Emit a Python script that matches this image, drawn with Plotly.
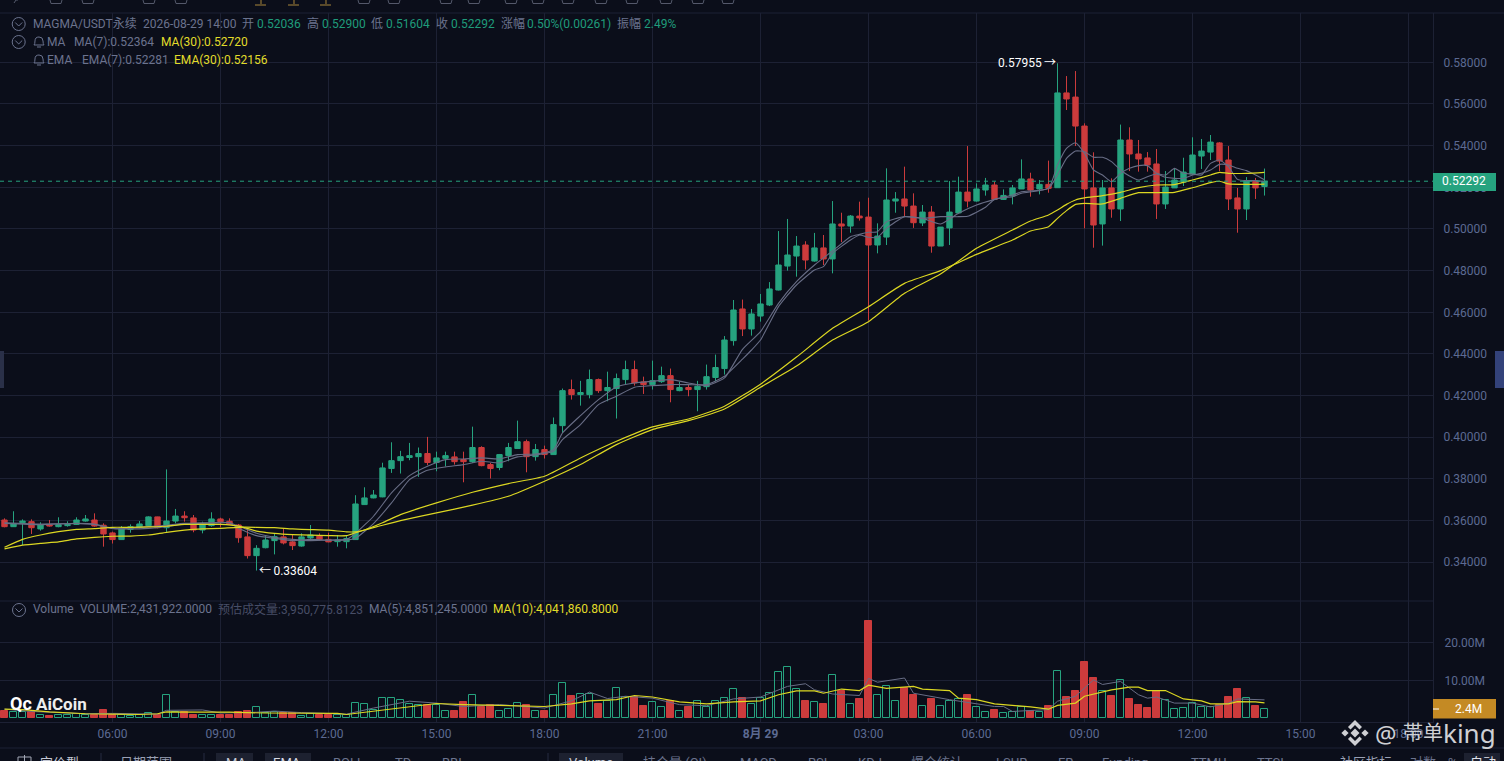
import pandas as pd
import plotly.graph_objects as go

# 15 minute candles, MAGMA/USDT
times = pd.date_range("2026-08-28 03:00", "2026-08-29 14:00", freq="15min")

open_ = [
    .3603, .3571, .3590, .3595, .3560, .3581, .3571, .3576, .3582, .3598,
    .3603, .3578, .3541, .3509, .3558, .3568, .3576, .3618, .3566, .3598,
    .3622, .3613, .3555, .3576, .3608, .3597, .3579, .3522, .3432, .3470,
    .3504, .3522, .3498, .3478, .3517, .3526, .3510, .3499, .3499, .3509,
    .3677, .3709, .3714, .3850, .3888, .3903, .3907, .3922, .3879, .3899,
    .3906, .3893, .3883, .3951, .3869, .3855, .3912, .3946, .3979, .3907,
    .3941, .3917, .4056, .4229, .4205, .4205, .4277, .4224, .4234, .4277,
    .4325, .4266, .4253, .4267, .4296, .4224, .4239, .4229, .4243, .4287,
    .4330, .4464, .4616, .4520, .4582, .4635, .4707, .4822, .4870, .4923,
    .4846, .4909, .4856, .5024, .5014, .5062, .5057, .4923, .4961, .5134,
    .5144, .5110, .5029, .5081, .4918, .5005, .5077, .5177, .5134, .5187,
    .5211, .5142, .5158, .5192, .5240, .5192, .5214, .5198, .5653, .5633,
    .5494, .5197, .5024, .5197, .5096, .5427, .5360, .5341, .5312, .5120,
    .5197, .5225, .5264, .5350, .5369, .5413, .5331, .5149, .5096, .5230,
    .52036,
]
high = [
    .3611, .3645, .3606, .3606, .3592, .3603, .3616, .3597, .3616, .3627,
    .3635, .3587, .3547, .3574, .3582, .3598, .3621, .3619, .3846, .3656,
    .3645, .3627, .3595, .3640, .3614, .3611, .3584, .3563, .3482, .3528,
    .3539, .3562, .3534, .3539, .3579, .3539, .3542, .3531, .3531, .3722,
    .3760, .3747, .3878, .3976, .3935, .3973, .3951, .4002, .3931, .3931,
    .3931, .3931, .4051, .3957, .3877, .3920, .3973, .4080, .3989, .3968,
    .3960, .4095, .4234, .4277, .4271, .4325, .4282, .4315, .4306, .4368,
    .4368, .4291, .4368, .4339, .4330, .4267, .4253, .4271, .4349, .4397,
    .4486, .4659, .4661, .4616, .4688, .4745, .4990, .5048, .4966, .4941,
    .4981, .4971, .5134, .5078, .5067, .5131, .5150, .5027, .5291, .5177,
    .5299, .5171, .5115, .5110, .5009, .5230, .5251, .5398, .5219, .5245,
    .5227, .5190, .5211, .5334, .5270, .5235, .5328, .57955, .5734, .5758,
    .5507, .5368, .5235, .5243, .5501, .5488, .5427, .5369, .5384, .5278,
    .5291, .5342, .5440, .5432, .5451, .5417, .5398, .5197, .5249, .5245,
    .52900,
]
low = [
    .3568, .3570, .3483, .3536, .3552, .3571, .3568, .3571, .3579, .3595,
    .3571, .3475, .3490, .3507, .3542, .3563, .3571, .3563, .3546, .3587,
    .3595, .3544, .3539, .3571, .3568, .3579, .3494, .3418, .33604, .3467,
    .3438, .3486, .3459, .3475, .3512, .3504, .3496, .3475, .3467, .3507,
    .3675, .3707, .3712, .3829, .3826, .3890, .3810, .3866, .3837, .3861,
    .3869, .3784, .3877, .3861, .3802, .3842, .3885, .3944, .3832, .3888,
    .3898, .3915, .4021, .4181, .4152, .4187, .4213, .4173, .4090, .4253,
    .4248, .4208, .4229, .4261, .4168, .4221, .4197, .4125, .4229, .4269,
    .4301, .4440, .4486, .4488, .4555, .4630, .4705, .4800, .4771, .4806,
    .4843, .4827, .4787, .4937, .4982, .5040, .4560, .4883, .4923, .5078,
    .5062, .5005, .5014, .4886, .4918, .4923, .5075, .5104, .5131, .5160,
    .5139, .5139, .5118, .5192, .5155, .5166, .5174, .5198, .5571, .5398,
    .5003, .4910, .4920, .5054, .5038, .5278, .5275, .5275, .5048, .5096,
    .5197, .5206, .5259, .5288, .5331, .5278, .5091, .4982, .5043, .5144,
    .51604,
]
close = [
    .3571, .3584, .3598, .3566, .3579, .3574, .3581, .3582, .3603, .3608,
    .3574, .3536, .3509, .3563, .3571, .3584, .3618, .3566, .3598, .3622,
    .3614, .3555, .3579, .3608, .3595, .3582, .3518, .3432, .3467, .3507,
    .3523, .3493, .3480, .3522, .3531, .3510, .3498, .3507, .3514, .3680,
    .3709, .3723, .3853, .3888, .3907, .3912, .3922, .3879, .3901, .3912,
    .3883, .3883, .3951, .3864, .3850, .3917, .3951, .3979, .3907, .3941,
    .3917, .4061, .4224, .4205, .4215, .4277, .4224, .4239, .4282, .4325,
    .4261, .4253, .4272, .4296, .4229, .4239, .4229, .4245, .4291, .4335,
    .4467, .4611, .4520, .4592, .4640, .4712, .4827, .4875, .4918, .4851,
    .4909, .4856, .5024, .5014, .5062, .5053, .4923, .4966, .5139, .5144,
    .5110, .5030, .5081, .4918, .5009, .5081, .5177, .5134, .5192, .5211,
    .5142, .5161, .5197, .5240, .5187, .5214, .5195, .5653, .5624, .5494,
    .5192, .5019, .5197, .5096, .5427, .5360, .5336, .5307, .5120, .5201,
    .5235, .5273, .5355, .5374, .5417, .5326, .5144, .5096, .5230, .5197,
    .52292,
]
# volume in millions, red bars are filled, green ones hollow
volume = [
    1.9, 1.6, 1.6, 1.6, 1.0, 0.7, 0.9, 0.9, 1.1, 0.9,
    0.9, 2.3, 1.0, 0.8, 0.6, 0.8, 1.3, 1.0, 6.1, 1.6,
    1.6, 1.0, 1.0, 0.8, 0.9, 0.9, 1.6, 1.9, 3.0, 1.4,
    1.6, 1.4, 1.4, 0.6, 1.1, 0.9, 0.9, 0.8, 1.0, 4.0,
    3.8, 2.3, 5.3, 5.3, 4.9, 3.7, 3.6, 3.6, 3.6, 1.9,
    2.0, 4.3, 6.1, 3.1, 3.5, 1.9, 2.4, 4.0, 3.5, 1.9,
    2.0, 6.1, 9.3, 5.9, 6.4, 6.4, 3.8, 4.5, 7.9, 5.6,
    5.6, 3.3, 4.4, 3.0, 4.5, 1.9, 3.1, 4.5, 3.0, 4.5,
    5.3, 7.7, 5.3, 3.8, 5.3, 6.6, 12.1, 13.4, 7.7, 4.6,
    4.3, 3.8, 11.3, 7.2, 3.8, 5.1, 25.6, 6.1, 8.5, 4.5,
    8.0, 6.2, 3.2, 5.1, 3.2, 4.5, 5.1, 6.2, 3.0, 1.7,
    2.3, 1.4, 1.7, 2.9, 1.8, 1.7, 3.3, 12.4, 5.7, 7.2,
    14.8, 10.7, 7.2, 5.9, 10.0, 5.2, 3.6, 2.8, 7.2, 4.8,
    2.4, 2.7, 4.0, 3.0, 3.0, 3.5, 5.7, 7.8, 5.3, 3.3,
    2.43,
]

# indicator lines, read at the candle numbers in the *_at lists
ma30_at = [0, 2, 4, 6, 8, 10, 12, 14, 16, 18, 20, 22, 24, 26, 28, 30, 32, 34, 36, 38, 39, 40, 42, 44,
           48, 52, 56, 60, 64, 68, 72, 76, 80, 84, 88, 92, 96, 100, 104, 108, 112, 114, 116, 117, 118,
           119, 120, 122, 124, 126, 128, 130, 132, 134, 135, 136, 138, 140]
ma30 = [.3464, .3482, .3491, .3498, .3512, .3520, .3525, .3526, .3531, .3544, .3554, .3560, .3563, .3568,
        .3568, .3566, .3560, .3557, .3554, .3546, .3546, .3555, .3578, .3600, .3637, .3674, .3717, .3789,
        .3869, .3965, .4037, .4080, .4136, .4240, .4342, .4467, .4555, .4691, .4784, .4907, .4995, .5038,
        .5067, .5091, .5118, .5139, .5149, .5160, .5176, .5198, .5211, .5213, .5235, .5259, .5272, .5267,
        .5267, .52720]
ema30 = [.3472, .3510, .3531, .3547, .3558, .3562, .3568, .3568, .3570, .3573, .3582, .3582, .3582, .3574,
         .3550, .3539, .3533, .3530, .3528, .3528, .3542, .3555, .3590, .3629, .3685, .3736, .3778, .3813,
         .3901, .3981, .4050, .4088, .4149, .4255, .4385, .4523, .4627, .4739, .4800, .4878, .4947, .4990,
         .5011, .5051, .5088, .5118, .5123, .5120, .5147, .5174, .5174, .5176, .5198, .5222, .5229, .5216,
         .5214, .52156]

ma7_at = [0, 4, 8, 10, 12, 14, 16, 18, 20, 22, 24, 25, 26, 28, 30, 32, 34, 36, 38, 39, 41, 43, 45, 47, 49,
          51, 53, 55, 57, 59, 61, 62, 64, 66, 68, 70, 72, 74, 76, 78, 80, 82, 83, 84, 86, 88, 90, 91, 92,
          94, 95, 96, 97, 98, 100, 102, 104, 106, 107, 109, 110, 112, 113, 116, 117, 118, 119, 120, 121,
          122, 123, 124, 125, 126, 127, 128, 129, 130, 131, 132, 133, 134, 135, 136, 137, 138, 139, 140]
ma7 = [.3590, .3584, .3586, .3581, .3562, .3560, .3563, .3571, .3584, .3587, .3589, .3590, .3574, .3539,
       .3520, .3510, .3504, .3507, .3507, .3515, .3586, .3685, .3797, .3842, .3858, .3869, .3885, .3877,
       .3906, .3915, .3933, .3989, .4061, .4157, .4197, .4240, .4248, .4253, .4253, .4253, .4293, .4375,
       .4419, .4467, .4627, .4731, .4803, .4819, .4883, .4947, .4971, .4960, .4960, .5003, .5059, .5051,
       .5059, .5059, .5061, .5104, .5142, .5155, .5171, .5195, .5259, .5339, .5374, .5371, .5344, .5344,
       .5323, .5283, .5254, .5235, .5251, .5264, .5248, .5243, .5243, .5259, .5267, .5283, .5310, .5307,
       .5291, .5280, .5259, .52364]

ema7_at = [0, 4, 8, 10, 12, 14, 16, 18, 20, 22, 24, 25, 26, 28, 30, 32, 34, 36, 38, 39, 41, 43, 45, 47, 49,
           51, 53, 55, 57, 59, 61, 62, 64, 66, 68, 70, 72, 74, 76, 78, 80, 82, 84, 86, 88, 90, 92, 94, 95,
           96, 97, 98, 100, 102, 104, 106, 108, 110, 112, 113, 116, 117, 118, 119, 120, 121, 122, 123, 124,
           125, 126, 127, 128, 129, 130, 131, 132, 133, 134, 135, 136, 137, 138, 139, 140]
ema7 = [.3587, .3581, .3587, .3584, .3563, .3563, .3571, .3578, .3587, .3589, .3592, .3590, .3563, .3528,
        .3515, .3504, .3510, .3506, .3510, .3539, .3621, .3733, .3816, .3861, .3893, .3896, .3901, .3896,
        .3917, .3920, .3941, .4021, .4104, .4181, .4242, .4261, .4269, .4277, .4261, .4248, .4285, .4422,
        .4507, .4643, .4747, .4827, .4894, .4963, .4974, .4984, .4987, .5035, .5059, .5051, .5024, .5075,
        .5115, .5142, .5163, .5179, .5195, .5307, .5387, .5414, .5363, .5283, .5259, .5227, .5267, .5291,
        .5304, .5304, .5267, .5259, .5291, .5267, .5264, .5259, .5315, .5331, .5299, .5238, .5232, .5232,
        .52281]

vol_ma5_at = [0, 3, 9, 12, 17, 18, 22, 24, 28, 30, 33, 38, 41, 45, 48, 51, 55, 60, 63, 65, 67, 69, 72, 75,
              78, 81, 84, 87, 89, 90, 92, 95, 96, 97, 100, 101, 105, 106, 110, 111, 112, 116, 117, 119, 121,
              122, 124, 126, 127, 128, 130, 132, 134, 136, 137, 140]
vol_ma5 = [2.4, 1.8, 1.2, 1.3, 1.1, 2.1, 2.2, 1.4, 1.6, 1.9, 1.5, 1.1, 2.7, 4.5, 4.0, 3.1, 3.6, 2.7, 4.6, 6.9,
           5.2, 5.8, 5.3, 3.6, 3.3, 5.1, 5.6, 8.4, 9.1, 7.5, 6.4, 6.0, 10.5, 9.5, 10.6, 6.6, 4.9, 4.5, 3.1,
           3.1, 1.8, 2.3, 4.5, 5.8, 10.1, 8.9, 9.7, 6.2, 5.3, 5.6, 4.0, 4.0, 3.0, 4.0, 5.1, 4.85]
vol_ma10_at = [0, 2, 5, 9, 12, 15, 17, 18, 22, 25, 29, 33, 37, 38, 40, 44, 48, 51, 55, 60, 63, 65, 68, 70, 72,
               75, 78, 81, 84, 86, 88, 90, 91, 93, 95, 96, 98, 101, 102, 105, 106, 108, 110, 111, 114, 116,
               117, 119, 120, 123, 125, 126, 127, 129, 131, 133, 134, 136, 137, 139, 140]
vol_ma10 = [2.4, 2.3, 1.7, 1.2, 1.1, 1.0, 1.2, 1.7, 1.6, 1.6, 1.4, 1.3, 1.3, 1.0, 1.6, 2.7, 3.9, 3.6, 3.4, 3.1,
            3.8, 4.6, 4.9, 6.0, 5.6, 4.3, 3.8, 4.3, 4.6, 6.2, 7.2, 7.2, 6.6, 7.7, 7.3, 8.7, 7.9, 8.4, 7.7, 7.3,
            5.3, 4.9, 3.8, 3.6, 3.0, 2.4, 3.4, 4.0, 5.8, 7.5, 8.2, 8.2, 7.3, 7.3, 5.1, 4.6, 3.8, 3.8, 4.4,
            4.3, 4.04]

tick_times = pd.date_range("2026-08-28 06:00", "2026-08-29 18:00", freq="3h")
tick_labels = ["06:00", "09:00", "12:00", "15:00", "18:00", "21:00", "<b>8月 29</b>",
               "03:00", "06:00", "09:00", "12:00", "15:00", "18:00"]
price_ticks = [.34, .36, .38, .40, .42, .44, .46, .48, .50, .52, .54, .56, .58]
vol_ticks = [10, 20]
vol_tick_labels = ["10.00M", "20.00M"]

BG = "#0b0e1a"
GRID = "#1d2134"
UP = "#26a37f"
DOWN = "#cc3b3c"
GRAY = "#686d85"
YELLOW = "#dcd722"
TEXT = "#6b738e"
TICK = "#5c6a92"
GREEN_TEXT = "#1f9c7a"
YELLOW_TEXT = "#e2dc2a"
FONT = "Roboto, 'Noto Sans CJK SC', sans-serif"

# page layout, in pixels
W, H = 1504, 761
PLOT_R, PLOT_T, PLOT_B, SPLIT = 1433, 13, 722, 601


def px(x):
    return x / PLOT_R


def py(y):
    return (PLOT_B - y) / (PLOT_B - PLOT_T)


def pp(x, y):
    return f"{px(x):.5f},{py(y):.5f}"


shapes = []
notes = []


def label(x, y, text, color=TEXT, size=12, anchor="left", family=FONT):
    notes.append(dict(xref="paper", yref="paper", x=px(x - 1 if anchor == "left" else x), y=py(y), text=text,
                      showarrow=False, xanchor=anchor, yanchor="middle", align="left",
                      font=dict(color=color, size=size, family=family), borderpad=0))


def hline(y, x0=0, x1=W, color=GRID):
    shapes.append(dict(type="line", xref="paper", yref="paper", x0=px(x0), x1=px(x1), y0=py(y), y1=py(y),
                       line=dict(color=color, width=1)))


def rect(x0, y0, x1, y1, color):
    shapes.append(dict(type="rect", xref="paper", yref="paper", x0=px(x0), x1=px(x1), y0=py(y0), y1=py(y1),
                       fillcolor=color, line=dict(width=0)))


def path(d, fill=None, color=None, width=1, layer="above"):
    shapes.append(dict(type="path", xref="paper", yref="paper", path=d, layer=layer,
                       fillcolor=fill, line=dict(color=color, width=width if color else 0)))


def chevron_circle(x, y):
    shapes.append(dict(type="circle", xref="paper", yref="paper", x0=px(x - 6.5), x1=px(x + 6.5),
                       y0=py(y + 6.5), y1=py(y - 6.5), line=dict(color=TEXT, width=1)))
    path(f"M{pp(x - 3.5, y - 1.5)} L{pp(x, y + 2)} L{pp(x + 3.5, y - 1.5)}", color=TEXT)


def bell(x, y):
    path(f"M{pp(x - 5, y + 3)} Q{pp(x - 4, y + 2)} {pp(x - 4, y - 1)} Q{pp(x - 4, y - 5)} {pp(x, y - 5)} "
         f"Q{pp(x + 4, y - 5)} {pp(x + 4, y - 1)} Q{pp(x + 4, y + 2)} {pp(x + 5, y + 3)} Z", color=TEXT)
    path(f"M{pp(x - 2, y + 5)} L{pp(x + 2, y + 5)}", color=TEXT)


def diamond(cx, cy, r, color):
    path(f"M{pp(cx - r, cy)} L{pp(cx, cy - r)} L{pp(cx + r, cy)} L{pp(cx, cy + r)} Z", fill=color)


# borders and strips
hline(PLOT_T)
hline(SPLIT, 0, PLOT_R)
hline(748)
for sep_x in [101, 204, 548]:
    shapes.append(dict(type="line", xref="paper", yref="paper", x0=px(sep_x), x1=px(sep_x), y0=py(753),
                       y1=py(761), line=dict(color="#262b40", width=1)))

# side handles
rect(0, 351, 4, 388, "#2a3048")
rect(1495, 351, 1504, 388, "#33427a")

# cut off toolbar icons along the top edge
for x0 in [50, 82, 143, 175, 358, 388, 440, 468, 505, 532, 562, 595, 626, 660, 692, 722]:
    path(f"M{pp(x0, 0)} L{pp(x0 + 1, 3.5)} L{pp(x0 + 11, 3.5)} L{pp(x0 + 12, 0)}", color="#555a6c")
path(f"M{pp(14, 3)} L{pp(16, 0)} L{pp(18, 0)}", color="#555a6c")
for x0 in [255, 288, 320]:
    path(f"M{pp(x0 + 6, 0)} L{pp(x0 + 6, 4)} M{pp(x0, 5)} L{pp(x0 + 11, 5)}", color="#a8853a")

# legend text
chevron_circle(18.7, 24)
chevron_circle(18.7, 42)
chevron_circle(19, 610)
bell(39, 42)
bell(39, 60)
label(33, 24, "MAGMA/USDT永续")
label(143, 24, "2026-08-29 14:00")
for x, text in [(242, "开"), (307, "高"), (371, "低"), (436, "收"), (501, "涨幅"), (617, "振幅")]:
    label(x, 24, text)
for x, text in [(257, "0.52036"), (322, "0.52900"), (386, "0.51604"), (451, "0.52292"),
                (527, "0.50%(0.00261)"), (644, "2.49%")]:
    label(x, 24, text, GREEN_TEXT)
label(47, 42, "MA")
label(74, 42, "MA(7):0.52364")
label(161, 42, "MA(30):0.52720", YELLOW_TEXT)
label(47, 60, "EMA")
label(82, 60, "EMA(7):0.52281")
label(174, 60, "EMA(30):0.52156", YELLOW_TEXT)
label(33, 609, "Volume")
label(80, 609, "VOLUME:2,431,922.0000")
label(218, 609, "预估成交量:3,950,775.8123", "#474d66")
label(369, 609, "MA(5):4,851,245.0000")
label(493, 609, "MA(10):4,041,860.8000", YELLOW_TEXT)

# price and volume tags
rect(PLOT_R, 173, 1496, 191, UP)
label(1464.5, 181.5, "0.52292", "white", anchor="center")
rect(PLOT_R, 699, 1496, 718.5, "#c48a24")
label(1468, 708.5, "2.4M", "white", anchor="center")
hline(709, PLOT_R, 1439, "white")

# AiCoin mark
label(10, 703, "<b>Qc</b>", "white", 18)
label(36, 704, "<b>AiCoin</b>", "#eeeeee", 17)

# bottom toolbar, cut by the page edge
for x0, x1 in [(216, 253), (265, 311), (559, 623), (1464, 1500)]:
    rect(x0, 753, x1, 775, "#1d2130")
path(f"M{pp(18, 761)} L{pp(18, 757)} L{pp(31, 757)} L{pp(31, 761)} M{pp(24.5, 755)} L{pp(24.5, 761)}", color="#a4a8b6")
for x, text, color in [(40, "定价型", "#c4c8d4"), (120, "日期范围", "#9aa0b4"), (226, "MA", "#c4c8d4"),
                       (273, "EMA", "#d8dbe4"), (333, "BOLL", TEXT), (395, "TD", TEXT), (442, "BBI", TEXT),
                       (569, "Volume", "#c4c8d4"), (643, "持仓量 (OI)", TEXT), (740, "MACD", TEXT),
                       (808, "RSI", TEXT), (858, "KDJ", TEXT), (911, "爆仓统计", TEXT), (996, "LSUR", TEXT),
                       (1058, "FR", TEXT), (1102, "Funding", TEXT), (1191, "TTMU", TEXT), (1257, "TTSI", TEXT),
                       (1340, "社区指标", "#9aa0b4"), (1410, "对数", TEXT), (1448, "%", TEXT),
                       (1470, "自动", "#e0e2ea")]:
    label(x, 762.5, text, color, 13)

# watermark
MARK = "#cfd0d4"
diamond(1355, 733, 4.5, MARK)
diamond(1345, 733, 3.6, MARK)
diamond(1365, 733, 3.6, MARK)
path(f"M{pp(1355, 720)} L{pp(1362, 727)} L{pp(1359.5, 729.5)} L{pp(1355, 725)} L{pp(1350.5, 729.5)} "
     f"L{pp(1348, 727)} Z", fill=MARK)
path(f"M{pp(1355, 746)} L{pp(1362, 739)} L{pp(1359.5, 736.5)} L{pp(1355, 741)} L{pp(1350.5, 736.5)} "
     f"L{pp(1348, 739)} Z", fill=MARK)
label(1375, 733, "@", MARK, 24, family="'Noto Sans', sans-serif")
label(1403, 733, "帯单", MARK, 20)
label(1443, 733, "king", MARK, 26, family="'Noto Sans', sans-serif")

fig = go.Figure()

fig.add_trace(go.Candlestick(
    x=times, open=open_, high=high, low=low, close=close,
    increasing=dict(line=dict(color=UP, width=1), fillcolor=UP),
    decreasing=dict(line=dict(color=DOWN, width=1), fillcolor=DOWN),
    whiskerwidth=0, xaxis="x", yaxis="y",
))
for at, values, color, width in [
    (ma7_at, ma7, GRAY, 1.1), (ema7_at, ema7, GRAY, 1.1),
    (ma30_at, ma30, YELLOW, 1.2), (ma30_at, ema30, YELLOW, 1.2),
]:
    fig.add_trace(go.Scatter(x=times[at], y=values, mode="lines",
                             line=dict(color=color, width=width, shape="spline", smoothing=0.5),
                             xaxis="x", yaxis="y"))

is_up = [c >= o for o, c in zip(open_, close)]
fig.add_trace(go.Bar(
    x=times, y=volume, width=640000,
    marker=dict(
        color=["rgba(0,0,0,0)" if up else DOWN for up in is_up],
        line=dict(color=[UP if up else DOWN for up in is_up], width=1),
    ),
    xaxis="x", yaxis="y2",
))
fig.add_trace(go.Scatter(x=times[vol_ma5_at], y=vol_ma5, mode="lines", line=dict(color=GRAY, width=1),
                         xaxis="x", yaxis="y2"))
fig.add_trace(go.Scatter(x=times[vol_ma10_at], y=vol_ma10, mode="lines", line=dict(color=YELLOW, width=1.2),
                         xaxis="x", yaxis="y2"))

# last price dashed line and the high / low marks
shapes.append(dict(type="line", xref="paper", yref="y", x0=0, x1=1, y0=close[-1], y1=close[-1],
                   line=dict(color=UP, width=1, dash="4px,4px")))
hi = high.index(max(high))
lo = low.index(min(low))
notes.append(dict(x=times[hi], y=max(high), xref="x", yref="y", text=f"{max(high):.5f}\u2009→", showarrow=False,
                  xanchor="right", yanchor="middle", xshift=0, font=dict(color="white", size=12, family=FONT)))
notes.append(dict(x=times[lo], y=min(low), xref="x", yref="y", text=f"←\u2009{min(low):.5f}", showarrow=False,
                  xanchor="left", yanchor="middle", xshift=0, font=dict(color="white", size=12, family=FONT)))

# x range so one candle takes 9 px and the first one sits half a candle from the edge
bar_ms = pd.Timedelta(minutes=15)
x_start = times[0] - bar_ms / 2
x_end = x_start + bar_ms * (PLOT_R / 9)

fig.update_layout(
    width=W, height=H,
    margin=dict(l=0, r=W - PLOT_R, t=PLOT_T, b=H - PLOT_B, pad=0, autoexpand=False),
    paper_bgcolor=BG, plot_bgcolor=BG,
    showlegend=False, hovermode=False, boxgap=0.15, bargap=0,
    font=dict(family=FONT, color=TICK, size=12),
    xaxis=dict(
        type="date", range=[x_start, x_end], anchor="y2", rangeslider=dict(visible=False),
        tickmode="array", tickvals=tick_times, ticktext=tick_labels,
        showgrid=True, gridcolor=GRID, gridwidth=1, zeroline=False,
        showline=True, linecolor=GRID, ticks="outside", ticklen=1, tickcolor="rgba(0,0,0,0)",
        tickfont=dict(color=TICK, size=12, family=FONT),
    ),
    yaxis=dict(
        domain=[py(SPLIT), 1], side="right", anchor="x",
        range=[.58 - (SPLIT - 62.3) / 2083.3, .58 + (62.3 - PLOT_T) / 2083.3],
        tickmode="array", tickvals=price_ticks, tickformat=".5f",
        showgrid=True, gridcolor=GRID, zeroline=False, showline=True, linecolor=GRID,
        ticks="outside", ticklen=7, tickcolor="rgba(0,0,0,0)",
        tickfont=dict(color=TICK, size=12, family=FONT),
    ),
    yaxis2=dict(
        domain=[0, py(SPLIT)], side="right", anchor="x",
        range=[-(PLOT_B - 718.3) / 3.8, (718.3 - SPLIT) / 3.8],
        tickmode="array", tickvals=vol_ticks, ticktext=vol_tick_labels,
        showgrid=True, gridcolor=GRID, zeroline=False, showline=True, linecolor=GRID,
        ticks="outside", ticklen=8, tickcolor="rgba(0,0,0,0)",
        tickfont=dict(color=TICK, size=12, family=FONT),
    ),
    shapes=shapes,
    annotations=notes,
)

fig.write_html("out.html", config=dict(displayModeBar=False),
               post_script="document.body.style.margin='0';document.body.style.background='#0b0e1a';")
